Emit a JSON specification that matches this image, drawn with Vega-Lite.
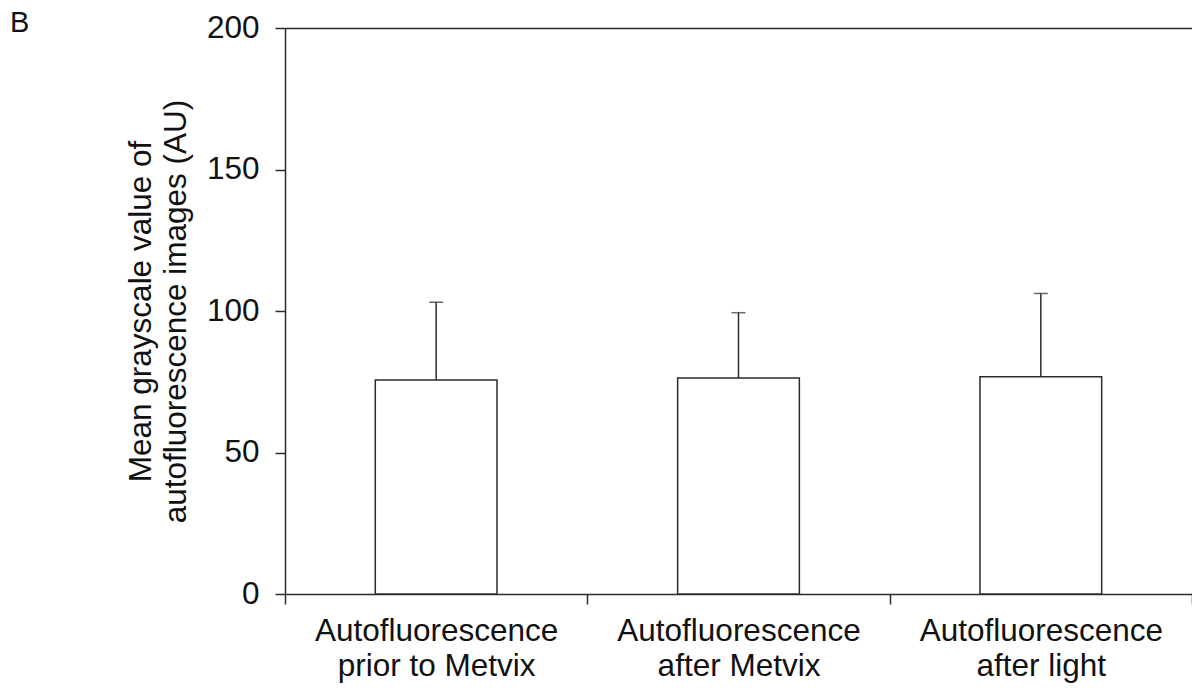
{
  "$schema": "https://vega.github.io/schema/vega-lite/v6.json",
  "autosize": {"type": "none"},
  "padding": {"left": 285, "top": 28, "right": 0, "bottom": 97},
  "width": 907,
  "height": 566,
  "background": "white",
  "config": {
    "font": "Liberation Sans",
    "view": {"stroke": null},
    "axis": {
      "labelFont": "Liberation Sans",
      "titleFont": "Liberation Sans",
      "labelColor": "#111111",
      "titleColor": "#111111",
      "domainColor": "#2b2b2b",
      "tickColor": "#2b2b2b",
      "domainWidth": 1.5,
      "tickWidth": 1.5,
      "labelLimit": 400,
      "grid": false
    }
  },
  "title": {
    "text": "B",
    "anchor": "start",
    "frame": "group",
    "orient": "top",
    "offset": 0,
    "dx": -275,
    "dy": 49,
    "baseline": "alphabetic",
    "font": "Liberation Sans",
    "fontSize": 29,
    "fontWeight": "normal",
    "color": "#111111"
  },
  "data": {
    "values": [
      {"condition": "Autofluorescence prior to Metvix", "mean": 75.6, "upper": 103.1},
      {"condition": "Autofluorescence after Metvix", "mean": 76.3, "upper": 99.4},
      {"condition": "Autofluorescence after light", "mean": 76.8, "upper": 106.2}
    ]
  },
  "resolve": {"axis": {"x": "independent"}},
  "layer": [
    {
      "mark": {"type": "bar", "fill": "white", "stroke": "#2b2b2b", "strokeWidth": 1.5, "width": {"band": 0.4026}},
      "encoding": {
        "x": {
          "field": "condition",
          "type": "nominal",
          "sort": null,
          "scale": {"paddingInner": 0, "paddingOuter": 0},
          "axis": {
            "title": null,
            "labelAngle": 0,
            "labelFontSize": 31.5,
            "labelLineHeight": 35,
            "labelPadding": 11,
            "tickSize": 10,
            "tickBand": "extent",
            "labelExpr": "[slice(datum.label, 0, 16), slice(datum.label, 17)]"
          }
        },
        "y": {
          "field": "mean",
          "type": "quantitative",
          "scale": {"domain": [0, 200], "nice": false},
          "axis": {
            "values": [0, 50, 100, 150, 200],
            "title": ["Mean grayscale value of", "autofluorescence images (AU)"],
            "titleFontSize": 31.5,
            "titleFontWeight": "normal",
            "titleLineHeight": 35,
            "titlePadding": 14,
            "labelFontSize": 31.5,
            "labelPadding": 16,
            "tickSize": 10
          }
        }
      }
    },
    {
      "mark": {"type": "rule", "color": "#2b2b2b", "strokeWidth": 1.5},
      "encoding": {
        "x": {
          "field": "condition",
          "type": "nominal",
          "sort": null,
          "axis": {"orient": "top", "title": null, "labels": false, "ticks": false, "domain": true}
        },
        "y": {"field": "mean", "type": "quantitative"},
        "y2": {"field": "upper"}
      }
    },
    {
      "mark": {"type": "tick", "color": "#2b2b2b", "thickness": 1.5, "size": 14},
      "encoding": {
        "x": {"field": "condition", "type": "nominal", "sort": null, "axis": null},
        "y": {"field": "upper", "type": "quantitative"}
      }
    }
  ]
}
